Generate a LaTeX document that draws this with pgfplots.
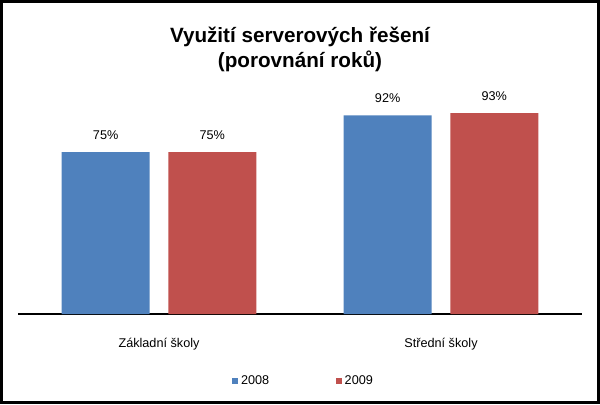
\documentclass[border=0pt]{standalone}
\usepackage{pgfplots}
\pgfplotsset{compat=1.18}
\usepackage{fontspec}
\setmainfont{Liberation Sans}
\definecolor{cblue}{HTML}{4F81BD}
\definecolor{cred}{HTML}{C0504D}
\begin{document}
\begin{tikzpicture}[x=1pt,y=1pt]
\useasboundingbox (0,0) rectangle (450,303);
\draw[line width=2.25pt] (1.125,1.125) rectangle (448.875,301.875);
\node[align=center, font=\fontsize{15.5}{19}\selectfont\bfseries] at (225,266) {Využití serverových řešení\\(porovnání roků)};
\begin{axis}[
  at={(13.5pt,67.5pt)}, anchor=south west,
  scale only axis, width=423pt, height=162pt,
  xmin=-0.5, xmax=1.5, ymin=0, ymax=100,
  axis x line*=bottom, axis y line=none,
  x axis line style={line width=1.5pt},
  xtick={0,1}, xticklabels={Základní školy, Střední školy},
  xtick style={draw=none},
  xticklabel style={font=\fontsize{9.5}{11}\selectfont, yshift=-10pt},
  ytick=\empty,
  /pgf/number format/assume math mode=true,
  ybar, bar width=66pt,
  nodes near coords={\pgfmathprintnumber[assume math mode=true]{\pgfplotspointmeta}\%},
  every node near coord/.append style={font=\fontsize{9.5}{11}\selectfont, anchor=base, yshift=9.5pt},
  legend style={at={(0.507,-0.31)}, anchor=center, draw=none, font=\fontsize{9.5}{11}\selectfont, legend columns=2, /tikz/every even column/.append style={column sep=48pt}},
  legend image code/.code={\fill[#1] (0pt,-2.3pt) rectangle (4.6pt,2.3pt);},
]
\addplot[fill=cblue, draw=none, bar shift=-40pt] coordinates {(0,75) (1,92)};
\addplot[fill=cred, draw=none, bar shift=40pt] coordinates {(0,75) (1,93)};
\legend{2008,2009}
\end{axis}
\end{tikzpicture}
\end{document}
